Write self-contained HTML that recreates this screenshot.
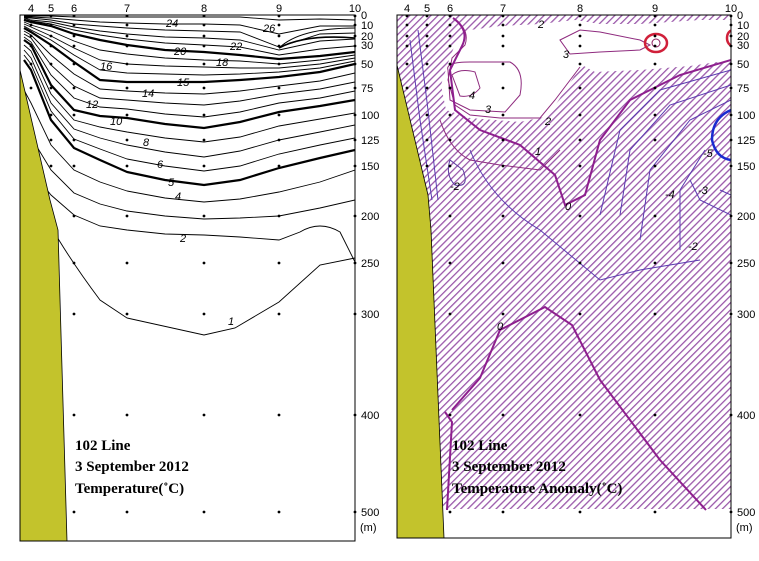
<!DOCTYPE html>
<html><head><meta charset="utf-8"><style>
html,body{margin:0;padding:0;background:#fff;width:759px;height:561px;overflow:hidden}
svg text{font-family:"Liberation Sans",sans-serif}
</style></head><body>
<svg width="759" height="561" xmlns="http://www.w3.org/2000/svg" xmlns:xlink="http://www.w3.org/1999/xlink">
<defs>
<pattern id="h" width="5" height="5" patternUnits="userSpaceOnUse" patternTransform="rotate(45)">
<rect width="5" height="5" fill="#fff"/><rect x="0" y="0" width="1.3" height="5" fill="#9a58aa"/>
</pattern>
<clipPath id="cl"><rect x="20" y="15" width="335" height="526"/></clipPath>
<clipPath id="cr"><rect x="397" y="15" width="334" height="523"/></clipPath>
</defs>
<g clip-path="url(#cl)" fill="none" stroke="#000" stroke-width="0.9">
<path d="M24,16 L31,16 L51,16 L74,17 L100,17 L127,17 L165,17 L204,17 L240,17 L279,20 L320,19 L355,20"/>
<path d="M24,17 L31,17 L51,18 L74,20 L100,22 L127,23 L165,24 L204,24 L240,25 L279,34 L320,26 L355,26"/>
<path d="M24,18 L31,18 L51,20 L74,24 L100,26 L127,28 L165,30 L204,31 L240,32 L279,47 L320,34 L355,33"/>
<path d="M24,18 L31,20 L51,22 L74,27 L100,31 L127,34 L165,37 L204,38 L240,40 L279,50 L320,41 L355,39"/>
<path d="M24,19 L31,21 L51,24 L74,30 L100,35 L127,39 L165,43 L204,45 L240,47 L279,55 L320,49 L355,46"/>
<path stroke-width="2.2" d="M24,20 L31,22 L51,26 L74,34 L100,40 L127,45 L165,50 L204,52 L240,55 L279,59 L320,56 L355,52"/>
<path d="M24,22 L31,25 L51,31 L74,41 L100,50 L127,54 L165,58 L204,60 L240,61 L279,64 L320,60 L355,55"/>
<path d="M24,24 L31,27 L51,36 L74,48 L100,60 L127,64 L165,66 L204,67 L240,68 L279,68 L320,64 L355,58"/>
<path d="M24,26 L31,30 L51,40 L74,55 L100,70 L127,73 L165,74 L204,75 L240,74 L279,72 L320,68 L355,61"/>
<path stroke-width="2.2" d="M24,28 L31,32 L51,45 L74,62 L100,80 L127,82 L165,82 L204,82 L240,80 L279,77 L320,72 L355,64"/>
<path d="M24,31 L31,35 L51,55 L74,74 L100,89 L127,91 L165,93 L204,94 L240,91 L279,86 L320,81 L355,73"/>
<path d="M24,34 L31,38 L51,65 L74,86 L100,98 L127,100 L165,103 L204,105 L240,101 L279,94 L320,89 L355,82"/>
<path d="M24,37 L31,42 L51,75 L74,98 L100,107 L127,109 L165,114 L204,117 L240,112 L279,103 L320,98 L355,91"/>
<path stroke-width="2.2" d="M24,40 L31,45 L51,85 L74,110 L100,116 L127,118 L165,124 L204,128 L240,122 L279,112 L320,106 L355,100"/>
<path d="M24,45 L31,51 L51,94 L74,120 L100,127 L127,132 L165,138 L204,142 L240,137 L279,126 L320,119 L355,113"/>
<path d="M24,50 L31,58 L51,103 L74,129 L100,138 L127,145 L165,152 L204,157 L240,151 L279,140 L320,132 L355,125"/>
<path d="M24,55 L31,64 L51,111 L74,139 L100,149 L127,159 L165,166 L204,171 L240,166 L279,154 L320,145 L355,138"/>
<path stroke-width="2.2" d="M24,60 L31,70 L51,120 L74,148 L100,160 L127,172 L165,180 L204,185 L240,180 L279,168 L320,158 L355,150"/>
<path d="M24,90 L31,103 L51,145 L74,170 L100,182 L127,191 L165,198 L204,202 L240,199 L279,192 L320,182 L355,170"/>
<path d="M24,120 L31,137 L51,170 L74,193 L100,204 L127,211 L165,216 L204,219 L240,218 L279,216 L320,208 L355,200"/>
<path d="M24,150 L31,170 L51,195 L74,215 L100,226 L127,230 L165,234 L204,235 L240,237 L279,240 L300,232 Q320,220 340,232 L355,262"/>
<path d="M50,225 Q70,260 100,300 L127,318 L204,335 L235,328 L279,302 L320,265 L355,258"/>
<path d="M279,48 Q300,28 355,28"/>
<path stroke-width="1.6" d="M279,48 Q305,34 355,38"/>
</g>
<g clip-path="url(#cr)">
<rect x="397" y="15" width="334" height="494" fill="url(#h)"/>
<path d="M449,60 L441,85 L446,110 L470,118 L520,122 L548,116 L562,95 L575,75 L582,65 L595,72 L640,70 L690,66 L731,60 L731,20 L700,20 L640,24 L600,24 L575,20 L540,24 L500,26 L470,30 L456,42 Z" fill="#fff"/>
<g fill="none" stroke="#8e2a7e" stroke-width="1">
<path d="M455,20 Q470,30 465,45 L452,58 L448,80 L455,105 L470,115 L500,118 L540,118 L555,100 L580,67"/>
<path d="M448,70 Q445,62 470,62 L510,62 Q525,70 520,95 L505,112 L470,110 L450,100 Z"/>
<path d="M452,75 Q460,68 475,72 L480,88 Q472,98 460,96 Z"/>
<path d="M560,40 L580,30 L600,32 L640,40 L650,45 L640,50 L600,52 L570,54 Z"/>
<path d="M440,120 Q450,150 470,160 L500,165 L540,170 L560,150"/>
<path d="M450,160 Q445,175 455,185 Q470,188 463,170 Z" stroke="#5a3aa0"/>
</g>
<g fill="none" stroke="#8e1f8e" stroke-width="2">
<path d="M453,18 Q470,30 462,46 L450,70 L455,110 L480,130 L520,145 L555,175 L565,205 L585,195 L600,140 L630,100 L680,75 L731,60"/>
<path d="M445,412 L452,422 L447,510"/>
<path d="M452,410 L480,378 L500,330 L545,307 L572,325 L600,380 L660,460 L706,510"/>
</g>
<g fill="none" stroke="#5a3ab0" stroke-width="1">
<path d="M600,215 L620,130 L660,90 L731,70"/><path d="M620,215 L630,150 L670,105 L731,85"/>
<path d="M640,240 L650,170 L690,120 L731,100"/><path d="M680,250 L680,190 L705,150"/>
<path d="M731,215 L700,200 L690,180"/><path d="M731,195 L720,190"/>
<path d="M410,40 L420,120 L432,200"/><path d="M418,30 L428,110 L438,200"/>
<path d="M470,150 Q490,200 540,230 L600,280 L640,270 L700,260"/>
</g>
<path d="M731,110 Q712,118 712,140 Q716,158 731,160" fill="none" stroke="#1a2ad0" stroke-width="2.5"/>
<ellipse cx="656" cy="43" rx="11" ry="9" fill="none" stroke="#d0203a" stroke-width="2.5"/>
<ellipse cx="656" cy="43" rx="4" ry="4" fill="none" stroke="#8e1f5e"/>
<ellipse cx="733" cy="38" rx="6" ry="8" fill="none" stroke="#d0203a" stroke-width="2.5"/>
<polygon points="397,65 428,195 431,230 444,538 397,538" fill="#c3c32c" stroke="#000" stroke-width="0.8"/>
</g>
<polygon points="20,70 50,200 58,230 67,541 20,541" fill="#c3c32c" stroke="#000" stroke-width="0.8"/>
<rect x="20" y="15" width="335" height="526" fill="none" stroke="#000"/>
<rect x="397" y="15" width="334" height="523" fill="none" stroke="#000"/>
<g id="dots" fill="#000">
<circle cx="31" cy="16" r="1.4"/><circle cx="31" cy="25" r="1.4"/><circle cx="31" cy="36" r="1.4"/><circle cx="31" cy="46" r="1.4"/><circle cx="31" cy="64" r="1.4"/><circle cx="31" cy="88" r="1.4"/>
<circle cx="51" cy="16" r="1.4"/><circle cx="51" cy="25" r="1.4"/><circle cx="51" cy="36" r="1.4"/><circle cx="51" cy="46" r="1.4"/><circle cx="51" cy="64" r="1.4"/><circle cx="51" cy="88" r="1.4"/><circle cx="51" cy="115" r="1.4"/><circle cx="51" cy="140" r="1.4"/><circle cx="51" cy="166" r="1.4"/>
<circle cx="74" cy="16" r="1.4"/><circle cx="74" cy="25" r="1.4"/><circle cx="74" cy="36" r="1.4"/><circle cx="74" cy="46" r="1.4"/><circle cx="74" cy="64" r="1.4"/><circle cx="74" cy="88" r="1.4"/><circle cx="74" cy="115" r="1.4"/><circle cx="74" cy="140" r="1.4"/><circle cx="74" cy="166" r="1.4"/><circle cx="74" cy="216" r="1.4"/><circle cx="74" cy="263" r="1.4"/><circle cx="74" cy="314" r="1.4"/><circle cx="74" cy="415" r="1.4"/><circle cx="74" cy="512" r="1.4"/>
<g id="col">
<circle cx="127" cy="16" r="1.4"/><circle cx="127" cy="25" r="1.4"/><circle cx="127" cy="36" r="1.4"/><circle cx="127" cy="46" r="1.4"/><circle cx="127" cy="64" r="1.4"/><circle cx="127" cy="88" r="1.4"/><circle cx="127" cy="115" r="1.4"/><circle cx="127" cy="140" r="1.4"/><circle cx="127" cy="166" r="1.4"/><circle cx="127" cy="216" r="1.4"/><circle cx="127" cy="263" r="1.4"/><circle cx="127" cy="314" r="1.4"/><circle cx="127" cy="415" r="1.4"/><circle cx="127" cy="512" r="1.4"/>
</g>
<use xlink:href="#col" x="77"/><use xlink:href="#col" x="152"/><use xlink:href="#col" x="228"/>
</g>
<use xlink:href="#dots" x="376"/>
<g id="lab" font-size="11" fill="#000">
<text x="31" y="12" text-anchor="middle">4</text><text x="51" y="12" text-anchor="middle">5</text><text x="74" y="12" text-anchor="middle">6</text><text x="127" y="12" text-anchor="middle">7</text><text x="204" y="12" text-anchor="middle">8</text><text x="279" y="12" text-anchor="middle">9</text><text x="355" y="12" text-anchor="middle">10</text>
<text x="361" y="19">0</text><text x="361" y="29">10</text><text x="361" y="40">20</text><text x="361" y="49">30</text><text x="361" y="68">50</text><text x="361" y="92">75</text><text x="361" y="119">100</text><text x="361" y="144">125</text><text x="361" y="170">150</text><text x="361" y="220">200</text><text x="361" y="267">250</text><text x="361" y="318">300</text><text x="361" y="419">400</text><text x="361" y="516">500</text><text x="360" y="531">(m)</text>
</g>
<use xlink:href="#lab" x="376"/>
<g font-weight="bold" font-size="15" fill="#000" style="font-family:'Liberation Serif',serif">
<text x="75" y="450" style="font-family:'Liberation Serif',serif">102 Line</text>
<text x="75" y="471" style="font-family:'Liberation Serif',serif">3 September 2012</text>
<text x="75" y="493" style="font-family:'Liberation Serif',serif">Temperature(˚C)</text>
<text x="452" y="450" style="font-family:'Liberation Serif',serif">102 Line</text>
<text x="452" y="471" style="font-family:'Liberation Serif',serif">3 September 2012</text>
<text x="452" y="493" style="font-family:'Liberation Serif',serif">Temperature Anomaly(˚C)</text>
</g>
<g font-size="11" font-style="italic" fill="#000" style="font-family:'Liberation Serif',serif">
<text x="166" y="27">24</text><text x="263" y="32">26</text><text x="230" y="50">22</text>
<text x="174" y="55">20</text><text x="216" y="66">18</text><text x="100" y="70">16</text>
<text x="177" y="86">15</text><text x="142" y="97">14</text><text x="86" y="108">12</text>
<text x="110" y="125">10</text><text x="143" y="146">8</text><text x="157" y="168">6</text>
<text x="168" y="186">5</text><text x="175" y="200">4</text><text x="180" y="242">2</text><text x="228" y="325">1</text>
<text x="538" y="28">2</text><text x="563" y="58">3</text><text x="469" y="99">4</text><text x="485" y="113">3</text>
<text x="545" y="125">2</text><text x="535" y="155">1</text><text x="565" y="210">0</text><text x="698" y="194">-3</text>
<text x="688" y="250">-2</text><text x="665" y="198">-4</text><text x="703" y="157">-5</text><text x="450" y="190">-2</text><text x="497" y="330">0</text>
</g>
</svg>
</body></html>
